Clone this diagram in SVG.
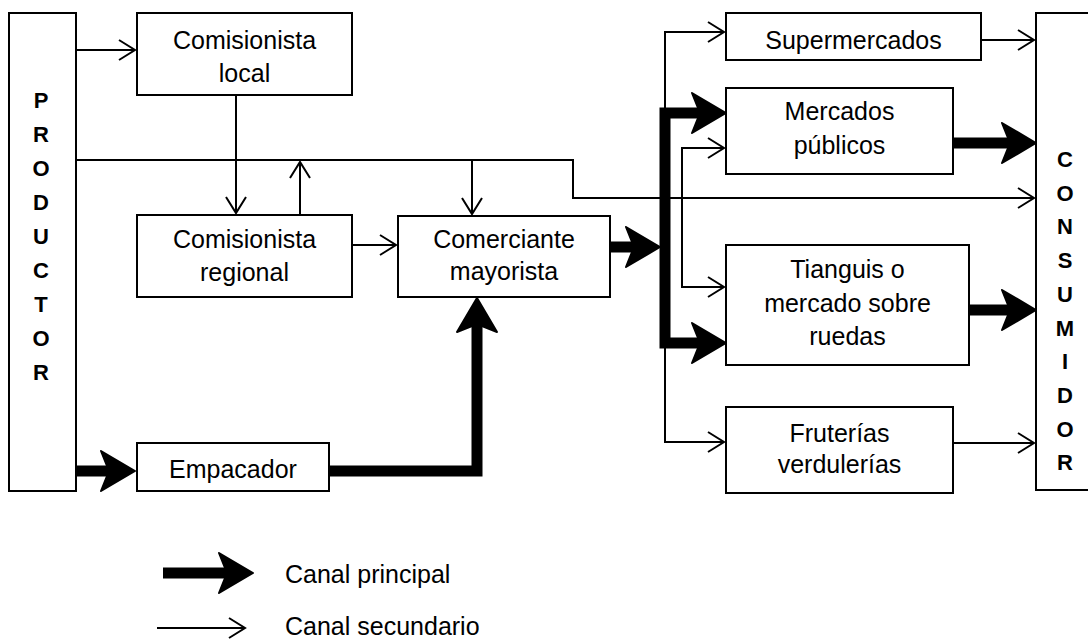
<svg xmlns="http://www.w3.org/2000/svg" width="1088" height="641" viewBox="0 0 1088 641">
<style>
.box{fill:#fff;stroke:#000;stroke-width:2}
.lbl{font-family:"Liberation Sans",Arial,sans-serif;font-size:25px;text-anchor:middle;fill:#000}
.big{font-family:"Liberation Sans",Arial,sans-serif;font-size:22px;font-weight:bold;text-anchor:middle;fill:#000}
.thin{fill:none;stroke:#000;stroke-width:2;marker-end:url(#ah)}
.thick{fill:none;stroke:#000;stroke-width:11;marker-end:url(#AH)}
</style>
<defs>
<marker id="ah" markerUnits="userSpaceOnUse" markerWidth="20" markerHeight="22" refX="17" refY="11" orient="auto" overflow="visible"><path d="M1 1 L17 11 L1 21" fill="none" stroke="#000" stroke-width="2"/></marker>
<marker id="AH" markerUnits="userSpaceOnUse" markerWidth="40" markerHeight="44" refX="10" refY="22" orient="auto" overflow="visible"><path d="M0 2 L34 22 L0 42 L8 22 Z" fill="#000" stroke="#000" stroke-width="2" stroke-linejoin="round"/></marker>
</defs>
<rect width="1088" height="641" fill="#fff"/>
<g id="connectors">
<path class="thin" d="M77 50 H135"/>
<path class="thin" d="M77 160 H573 V198 H1034"/>
<path class="thin" d="M472 160 V214"/>
<path class="thin" d="M236 95 V213"/>
<path class="thin" d="M300 215 V162"/>
<path class="thin" d="M352 245 H396"/>
<path class="thin" d="M665 247 V32 H724"/>
<path class="thin" d="M665 247 V442 H724"/>
<path class="thin" d="M682 220 V148 H724"/>
<path class="thin" d="M682 220 V287 H724"/>
<path class="thin" d="M981 40 H1034"/>
<path class="thin" d="M953 443 H1034"/>
<path class="thick" d="M77 471 H111"/>
<path class="thick" d="M329 471 H477 V322"/>
<path class="thick" d="M610 247 H636"/>
<path class="thick" d="M665 247 V113 H702"/>
<path class="thick" d="M665 247 V343 H702"/>
<path class="thick" d="M953 143 H1012"/>
<path class="thick" d="M969 310 H1012"/>
</g>
<g id="productor">
<rect class="box" x="9" y="13" width="67" height="478"/>
<text class="big"><tspan x="41" y="108">P</tspan><tspan x="41" y="142">R</tspan><tspan x="41" y="176">O</tspan><tspan x="41" y="210">D</tspan><tspan x="41" y="244">U</tspan><tspan x="41" y="278">C</tspan><tspan x="41" y="312">T</tspan><tspan x="41" y="346">O</tspan><tspan x="41" y="380">R</tspan></text>
</g>
<g id="comisionista-local">
<rect class="box" x="137" y="13" width="215" height="82"/>
<text class="lbl"><tspan x="244.5" y="49">Comisionista</tspan><tspan x="244.5" y="82">local</tspan></text>
</g>
<g id="comisionista-regional">
<rect class="box" x="137" y="215" width="215" height="82"/>
<text class="lbl"><tspan x="244.5" y="248">Comisionista</tspan><tspan x="244.5" y="281">regional</tspan></text>
</g>
<g id="empacador">
<rect class="box" x="137" y="443" width="192" height="48"/>
<text class="lbl" x="233" y="478">Empacador</text>
</g>
<g id="comerciante-mayorista">
<rect class="box" x="398" y="216" width="212" height="81"/>
<text class="lbl"><tspan x="504" y="248">Comerciante</tspan><tspan x="504" y="280">mayorista</tspan></text>
</g>
<g id="supermercados">
<rect class="box" x="726" y="13" width="255" height="47"/>
<text class="lbl" x="853.5" y="49">Supermercados</text>
</g>
<g id="mercados-publicos">
<rect class="box" x="726" y="88" width="227" height="86"/>
<text class="lbl"><tspan x="839.5" y="120">Mercados</tspan><tspan x="839.5" y="154">públicos</tspan></text>
</g>
<g id="tianguis">
<rect class="box" x="726" y="245" width="243" height="120"/>
<text class="lbl"><tspan x="847.5" y="278">Tianguis o</tspan><tspan x="847.5" y="312">mercado sobre</tspan><tspan x="847.5" y="345">ruedas</tspan></text>
</g>
<g id="fruterias">
<rect class="box" x="726" y="407" width="227" height="86"/>
<text class="lbl"><tspan x="839.5" y="442">Fruterías</tspan><tspan x="839.5" y="473">verdulerías</tspan></text>
</g>
<g id="consumidor">
<rect class="box" x="1036" y="13" width="80" height="477"/>
<text class="big"><tspan x="1065" y="167">C</tspan><tspan x="1065" y="201">O</tspan><tspan x="1065" y="234">N</tspan><tspan x="1065" y="268">S</tspan><tspan x="1065" y="302">U</tspan><tspan x="1065" y="336">M</tspan><tspan x="1065" y="369">I</tspan><tspan x="1065" y="403">D</tspan><tspan x="1065" y="437">O</tspan><tspan x="1065" y="470">R</tspan></text>
</g>
<g id="legend">
<path class="thick" d="M163 573 H229"/>
<text class="lbl" x="285" y="583" style="text-anchor:start">Canal principal</text>
<path class="thin" d="M157 628 H245"/>
<text class="lbl" x="285" y="635" style="text-anchor:start">Canal secundario</text>
</g>
</svg>
